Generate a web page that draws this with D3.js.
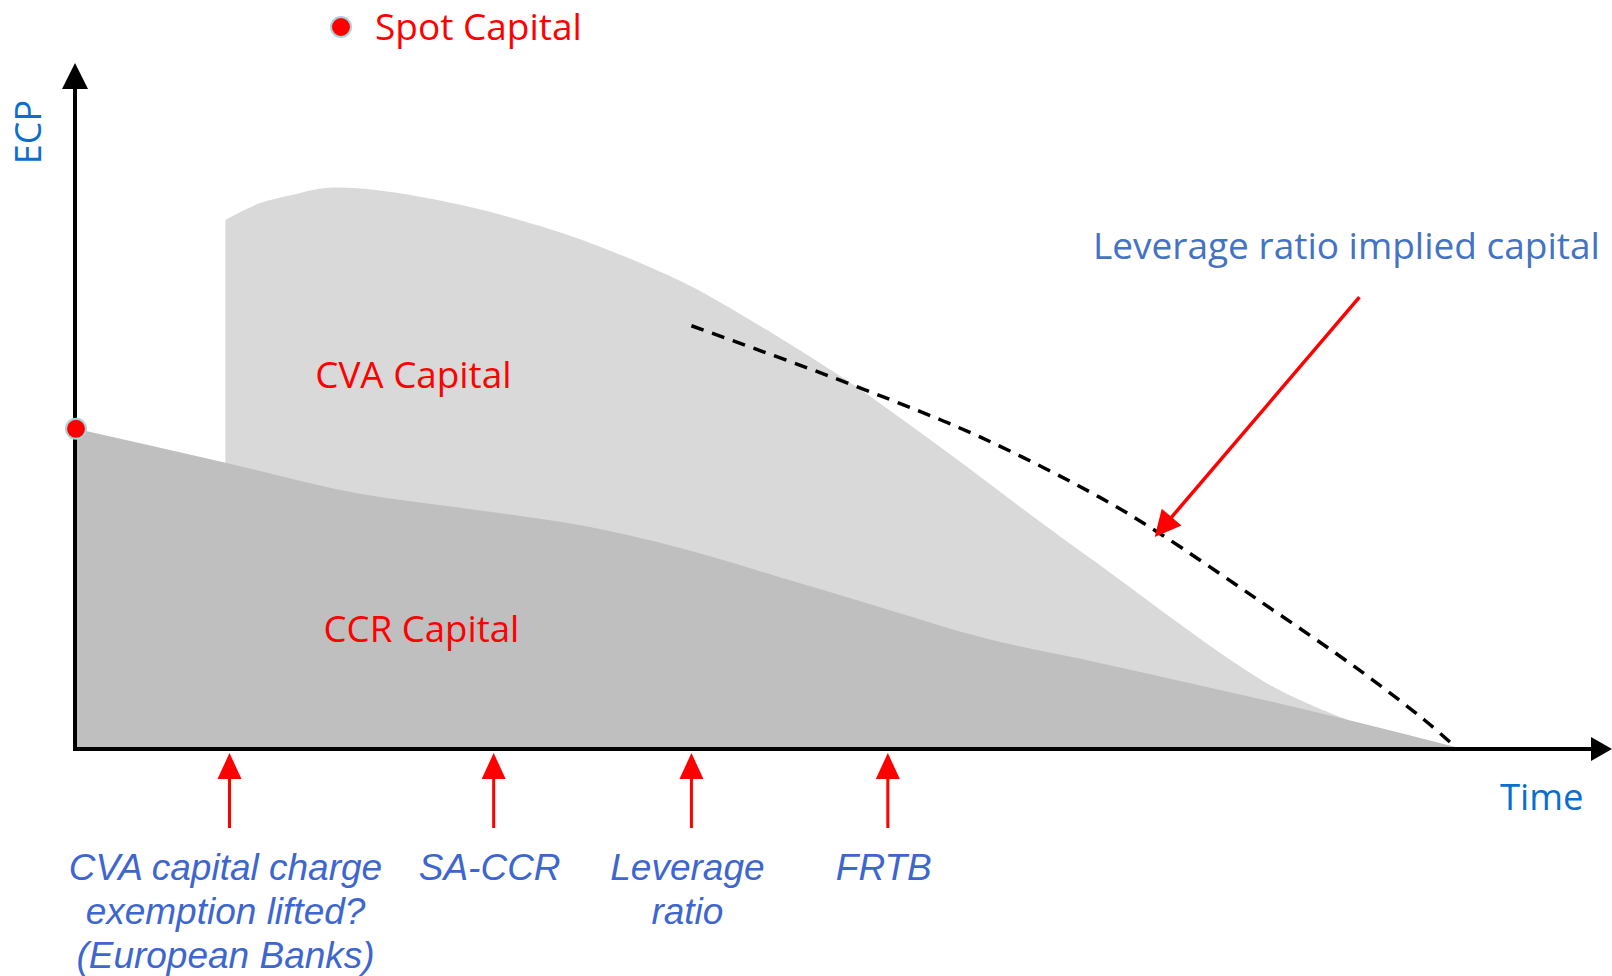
<!DOCTYPE html>
<html>
<head>
<meta charset="utf-8">
<script src="https://cdn.jsdelivr.net/npm/d3@7"></script>
<style>
  body { margin: 0; background: #fff; }
  svg { display: block; font-family: "Open Sans", sans-serif; }
</style>
</head>
<body>
<svg width="1612" height="976"></svg>
<script>
// values: time in years (0-10), ECP on a 0-100 scale
var ccrTime  = [0, 1.09, 2.05, 2.78, 3.64, 4.37, 5.09, 5.81, 6.54, 7.40, 9.20, 10];
var ccrValue = [57, 50.9, 45.4, 42.9, 39.8, 35.7, 30.5, 25.2, 19.8, 15.2, 5.0, 0];

var cvaTime  = [1.08, 1.33, 1.57, 1.81, 2.18, 2.78, 3.26, 3.64, 4.37, 4.85, 5.57, 6.05, 6.54, 7.02, 7.35, 8.63, 9.20];
var cvaValue = [94.3, 97.3, 98.8, 100, 99.6, 97.0, 93.9, 90.9, 83.4, 76.8, 65.7, 57.3, 48.4, 39.5, 33.6, 11.3, 5.0];

var levTime  = [4.45, 5.65, 6.54, 7.40, 7.83, 8.55, 9.28, 9.75, 9.96];
var levValue = [75.4, 64.5, 55.5, 44.8, 38.4, 26.4, 13.9, 5.0, 0.5];

var eventTimes  = [1.11, 3.02, 4.45, 5.87];
var eventLabels = [
  ["CVA capital charge", "exemption lifted?", "(European Banks)"],
  ["SA-CCR"],
  ["Leverage", "ratio"],
  ["FRTB"]
];

var svg = d3.select("svg");

var x = d3.scaleLinear().domain([0, 10]).range([76, 1459]);
var y = d3.scaleLinear().domain([0, 100]).range([748, 188]);

function zip(ts, vs) {
  return ts.map(function(t, i) { return { t: t, v: vs[i] }; });
}
var ccr = zip(ccrTime, ccrValue),
    cva = zip(cvaTime, cvaValue),
    lev = zip(levTime, levValue);

function area(curve) {
  return d3.area()
      .x(function(d) { return x(d.t); })
      .y0(y(0))
      .y1(function(d) { return y(d.v); })
      .curve(curve);
}

var line = d3.line()
    .x(function(d) { return x(d.t); })
    .y(function(d) { return y(d.v); })
    .curve(d3.curveCatmullRom.alpha(0.5));

// CVA capital sits behind, CCR capital in front
svg.append("path").datum(cva).attr("d", area(d3.curveCatmullRom.alpha(0.5))).attr("fill", "#d9d9d9");
svg.append("path").datum(ccr).attr("d", area(d3.curveMonotoneX)).attr("fill", "#bfbfbf");

svg.append("path").datum(lev)
    .attr("d", line)
    .attr("fill", "none")
    .attr("stroke", "#000")
    .attr("stroke-width", 3.5)
    .attr("stroke-dasharray", "13,9");

// axes with arrow heads
var ax = svg.append("g");
ax.append("line").attr("x1", 75).attr("x2", 75).attr("y1", 751).attr("y2", 85)
    .attr("stroke", "#000").attr("stroke-width", 4);
ax.append("path").attr("d", "M75,63L62,89L88,89Z").attr("fill", "#000");
ax.append("line").attr("x1", 73).attr("x2", 1594).attr("y1", 749).attr("y2", 749)
    .attr("stroke", "#000").attr("stroke-width", 4);
ax.append("path").attr("d", "M1612,749L1591,737L1591,761Z").attr("fill", "#000");

ax.append("text")
    .attr("transform", "translate(41,132) rotate(-90)")
    .attr("text-anchor", "middle")
    .attr("font-size", 36)
    .attr("fill", "#0a6fcc")
    .text("ECP");
ax.append("text")
    .attr("x", 1500).attr("y", 810)
    .attr("font-size", 36.5)
    .attr("fill", "#0a6fcc")
    .text("Time");

// spot capital point and its legend
svg.append("circle")
    .attr("cx", x(ccr[0].t)).attr("cy", y(ccr[0].v)).attr("r", 10)
    .attr("fill", "#ff0000").attr("stroke", "#a8d3d8").attr("stroke-width", 2);
svg.append("circle")
    .attr("cx", 341).attr("cy", 27).attr("r", 10)
    .attr("fill", "#ff0000").attr("stroke", "#a8d3d8").attr("stroke-width", 2);
svg.append("text")
    .attr("x", 375).attr("y", 40)
    .attr("font-size", 37).attr("fill", "#ff0000")
    .text("Spot Capital");

svg.append("text")
    .attr("x", x(1.73)).attr("y", y(64.3))
    .attr("font-size", 36.8).attr("fill", "#ff0000")
    .text("CVA Capital");
svg.append("text")
    .attr("x", x(1.79)).attr("y", y(18.9))
    .attr("font-size", 36.6).attr("fill", "#ff0000")
    .text("CCR Capital");

// leverage ratio annotation
svg.append("text")
    .attr("x", 1093).attr("y", 259)
    .attr("font-size", 37).attr("fill", "#4472c4")
    .text("Leverage ratio implied capital");

function arrow(g, x0, y0, x1, y1, len, half, w) {
  var dx = x1 - x0, dy = y1 - y0, L = Math.sqrt(dx * dx + dy * dy);
  var ux = dx / L, uy = dy / L;
  var bx = x1 - ux * len, by = y1 - uy * len;
  g.append("line").attr("x1", x0).attr("y1", y0).attr("x2", bx + ux * 2).attr("y2", by + uy * 2)
      .attr("stroke", "#ff0000").attr("stroke-width", w);
  g.append("path")
      .attr("d", "M" + x1 + "," + y1 +
                 "L" + (bx - uy * half) + "," + (by + ux * half) +
                 "L" + (bx + uy * half) + "," + (by - ux * half) + "Z")
      .attr("fill", "#ff0000");
}

var notes = svg.append("g");
arrow(notes, x(9.28), y(80.5), x(7.80), y(37.7), 26, 13, 3.5);

// regulatory events under the time axis
eventTimes.forEach(function(t, i) {
  var g = svg.append("g");
  arrow(g, x(t), 828, x(t), 753, 26, 12, 3);
  var txt = g.append("text")
      .attr("text-anchor", "middle")
      .attr("font-family", "Liberation Sans, Arial, sans-serif")
      .attr("font-style", "italic")
      .attr("font-size", 37)
      .attr("fill", "#3d66cf");
  eventLabels[i].forEach(function(s, j) {
    txt.append("tspan").attr("x", x(t) - 4).attr("y", 880 + j * 44).text(s);
  });
});
</script>
</body>
</html>
